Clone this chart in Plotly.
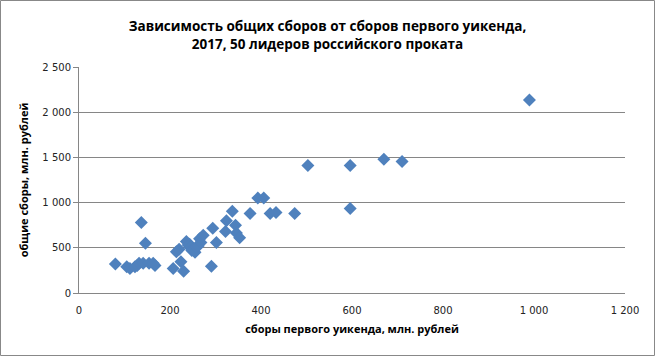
import plotly.graph_objects as go

# Opening weekend box office (mln RUB) and total box office (mln RUB)
weekend = [80, 105, 112, 123, 128, 132, 137, 141, 146, 154, 163, 167,
           207, 214, 220, 224, 230, 236, 240, 243, 245, 248, 252, 255, 258,
           262, 265, 268, 273, 291, 294, 302, 322, 324, 337, 344, 346, 353,
           376, 393, 406, 420, 433, 474, 503, 596, 596, 670, 710, 990]
total = [320, 290, 270, 290, 305, 330, 780, 330, 550, 330, 330, 305,
         270, 455, 485, 345, 240, 570, 530, 540, 500, 470, 480, 450, 510,
         520, 600, 560, 640, 295, 715, 560, 680, 800, 905, 750, 665, 612,
         880, 1050, 1050, 880, 890, 880, 1410, 1410, 935, 1480, 1455, 2135]

x_ticks = [0, 200, 400, 600, 800, 1000, 1200]
y_ticks = [0, 500, 1000, 1500, 2000, 2500]

W, H = 655, 356
ml, mr, mt, mb = 79, 30, 67, 63
pw, ph = W - ml - mr, H - mt - mb

fig = go.Figure(go.Scatter(
    x=weekend, y=total, mode="markers",
    marker=dict(symbol="diamond", size=10, color="#4F81BD",
                line=dict(width=0)),
))

fig.update_layout(
    width=W, height=H,
    margin=dict(l=ml, r=mr, t=mt, b=mb, autoexpand=False),
    paper_bgcolor="white", plot_bgcolor="white",
    separators=", ",
    showlegend=False,
    title=dict(
        text="<b>Зависимость общих сборов от сборов первого уикенда,<br>2017, 50 лидеров российского проката</b>",
        x=0.5, xanchor="center", xref="container",
        y=1 - 31 / H, yanchor="middle", yref="container",
        automargin=False,
        font=dict(family="Open Sans", size=13.5, color="black"),
    ),
    font=dict(family="DejaVu Sans", size=10, color="#222"),
)

fig.update_xaxes(
    range=[0, 1200], tickvals=x_ticks, tickformat=",d",
    showgrid=False, zeroline=False, automargin=False,
    showline=True, linecolor="#868686", linewidth=1,
    ticks="outside", ticklen=8, tickcolor="rgba(0,0,0,0)",
    title=dict(text="<b>сборы первого уикенда, млн. рублей</b>",
               font=dict(family="Open Sans", size=11, color="black"),
               standoff=10),
)
fig.update_yaxes(
    range=[0, 2500], tickvals=y_ticks, tickformat=",d",
    showgrid=True, gridcolor="#868686", gridwidth=1, zeroline=False,
    automargin=False,
    showline=True, linecolor="#868686", linewidth=1,
    ticks="outside", ticklen=5, tickcolor="#868686",
    title=dict(text="<b>общие сборы, млн. рублей</b>",
               font=dict(family="Open Sans", size=11, color="black"),
               standoff=11),
)

# outer chart frame
fig.add_shape(type="rect", xref="paper", yref="paper",
              x0=-(ml - 0.5) / pw, x1=1 + (mr - 0.5) / pw,
              y0=-(mb - 0.5) / ph, y1=1 + (mt - 0.5) / ph,
              line=dict(color="#888888", width=1), layer="below")

fig.write_html("out.html", config={"displayModeBar": False},
               post_script="document.body.style.margin='0px';document.body.style.overflow='hidden';")
